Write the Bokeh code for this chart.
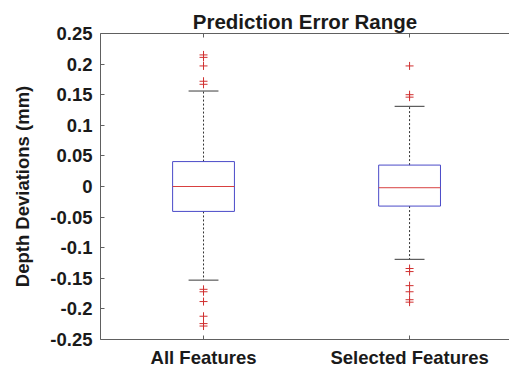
from bokeh.plotting import figure
from bokeh.models import LinearAxis, FixedTicker, Range1d, ColumnDataSource
from bokeh.embed import file_html
from bokeh.resources import INLINE

# Box-plot summary for each feature set (values in mm)
categories = ["All Features", "Selected Features"]
q1 = [-0.0407, -0.032]
medians = [0.0, -0.002]
q3 = [0.0407, 0.035]
whisker_low = [-0.153, -0.119]
whisker_high = [0.156, 0.131]
outliers_all = [0.215, 0.211, 0.197, 0.172, 0.167,
                -0.168, -0.172, -0.188, -0.212, -0.224, -0.228]
outliers_selected = [0.197, 0.150, 0.146,
                     -0.134, -0.139, -0.162, -0.172, -0.185, -0.189]
y_ticks = [-0.25, -0.2, -0.15, -0.1, -0.05, 0, 0.05, 0.1, 0.15, 0.2, 0.25]
y_tick_labels = ["-0.25", "-0.2", "-0.15", "-0.1", "-0.05", "0",
                 "0.05", "0.1", "0.15", "0.2", "0.25"]

FONT = "Liberation Sans"
BOX_HALF = 0.15
CAP_HALF = 0.0725

xs = [i + 1 for i in range(len(categories))]

p = figure(width=509, height=370, output_backend="svg", toolbar_location=None,
           x_range=Range1d(0.5, 2.485), y_range=Range1d(-0.25, 0.25),
           min_border_left=100, min_border_right=0, min_border_top=33,
           min_border_bottom=29, x_axis_location=None, y_axis_location=None)
p.background_fill_color = "white"
p.border_fill_color = "white"
p.outline_line_color = None
p.grid.visible = False

p.title.text = "Prediction Error Range"
p.title.align = "center"
p.title.vertical_align = "middle"
p.title.text_font = FONT
p.title.text_font_size = "20.5px"
p.title.text_font_style = "bold"
p.title.text_color = "#1a1a1a"
p.title.offset = 0
p.title.standoff = 0

axis_color = "#606060"
label_color = "#1a1a1a"


def style_axis(ax):
    ax.axis_line_color = axis_color
    ax.major_tick_line_color = axis_color
    ax.major_tick_in = 4
    ax.major_tick_out = 0
    ax.minor_tick_line_color = None
    ax.major_label_text_font = FONT
    ax.major_label_text_font_style = "bold"
    ax.major_label_text_font_size = "18.5px"
    ax.major_label_text_color = label_color


x_ticker = FixedTicker(ticks=xs)
xa = LinearAxis(ticker=x_ticker,
                major_label_overrides={x: c for x, c in zip(xs, categories)})
style_axis(xa)
xa.major_label_standoff = 7
p.add_layout(xa, "below")

ya = LinearAxis(ticker=FixedTicker(ticks=y_ticks),
                major_label_overrides={t: s for t, s in zip(y_ticks, y_tick_labels)})
style_axis(ya)
ya.major_label_standoff = 8
ya.axis_label = "Depth Deviations (mm)"
ya.axis_label_text_font = FONT
ya.axis_label_text_font_style = "bold"
ya.axis_label_text_font_size = "18.5px"
ya.axis_label_text_color = label_color
ya.axis_label_standoff = 14
p.add_layout(ya, "left")

# top border with inward ticks, no labels
ta = LinearAxis(ticker=x_ticker,
                major_label_overrides={x: "" for x in xs})
style_axis(ta)
ta.major_label_standoff = 0
p.add_layout(ta, "above")

src = ColumnDataSource(dict(x=xs, q1=q1, q3=q3, med=medians,
                            lo=whisker_low, hi=whisker_high))

# dashed whiskers
p.segment(x0="x", y0="q3", x1="x", y1="hi", source=src,
          line_color="#333333", line_dash="2 2", line_width=1)
p.segment(x0="x", y0="q1", x1="x", y1="lo", source=src,
          line_color="#333333", line_dash="2 2", line_width=1)

# whisker caps
for x, lo, hi in zip(xs, whisker_low, whisker_high):
    p.segment(x0=[x - CAP_HALF, x - CAP_HALF], y0=[lo, hi],
              x1=[x + CAP_HALF, x + CAP_HALF], y1=[lo, hi],
              line_color="#3a3a3a", line_width=1)

# boxes
p.quad(left=[x - BOX_HALF for x in xs], right=[x + BOX_HALF for x in xs],
       bottom=q1, top=q3, fill_color=None, line_color="#4a4ac8", line_width=1)

# medians
p.segment(x0=[x - BOX_HALF for x in xs], y0=medians,
          x1=[x + BOX_HALF for x in xs], y1=medians,
          line_color="#d84040", line_width=1)

# outliers
for x, vals in zip(xs, [outliers_all, outliers_selected]):
    p.scatter(x=[x] * len(vals), y=vals, marker="cross", size=8,
              line_color="#d03030", line_width=1)

open("out.html", "w").write(file_html(p, INLINE))
